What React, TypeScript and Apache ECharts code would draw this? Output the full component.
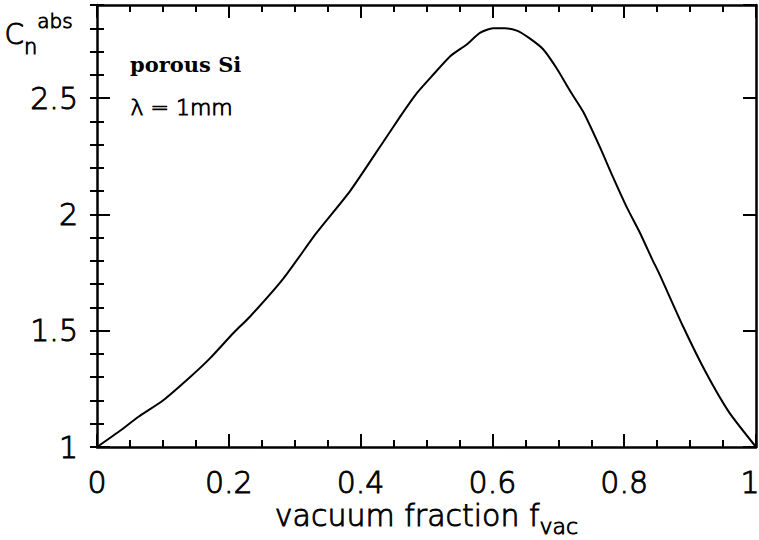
import React, { useEffect, useRef } from 'react';
import * as echarts from 'echarts';

// vacuum fraction (x) and absorption enhancement C_n^abs (y)
const fVac = [0, 0.035, 0.063, 0.1, 0.141, 0.171, 0.207, 0.232, 0.283, 0.333, 0.384, 0.434, 0.46, 0.485, 0.51, 0.536, 0.561, 0.581, 0.601, 0.619, 0.637, 0.655, 0.677, 0.697, 0.718, 0.738, 0.763, 0.783, 0.804, 0.824, 0.842, 0.854, 0.889, 0.924, 0.959, 1];
const cAbs = [1, 1.07, 1.13, 1.2, 1.3, 1.38, 1.49, 1.56, 1.725, 1.92, 2.1, 2.31, 2.42, 2.52, 2.6, 2.68, 2.73, 2.78, 2.8, 2.8, 2.79, 2.76, 2.71, 2.63, 2.53, 2.44, 2.29, 2.16, 2.03, 1.92, 1.81, 1.74, 1.52, 1.32, 1.15, 1];

const xMin = 0, xMax = 1, xMajor = 0.2, xMinorSplit = 4;
const yMin = 1, yMax = 2.9, yMajor = 0.5, yMinor = 0.1;

const FONT = '"DejaVu Sans", sans-serif';
const LIGHT = 200;
const BLACK = '#000';
const EDGE = 0.9;

export default function App() {
  const ref = useRef<HTMLDivElement>(null);
  useEffect(() => {
    if (!ref.current) return;
    const chart = echarts.init(ref.current, undefined, { renderer: 'svg' });
    const lineStyle = { color: BLACK, width: 2.5 };
    const majorTick = { show: true, inside: true, length: 13, lineStyle: { color: BLACK, width: 2 } };
    const minorTickY = { show: true, inside: true, length: 7, lineStyle: { color: BLACK, width: 2 } };
    const baseY = { type: 'value', min: yMin, max: yMax, splitLine: { show: false } };
    const baseX = { type: 'value', min: xMin, max: xMax, interval: xMajor, splitLine: { show: false } };
    const txt = { fontFamily: FONT, fontWeight: LIGHT, color: BLACK, textBorderColor: BLACK, textBorderWidth: EDGE };
    const gtxt = { fontFamily: FONT, fontWeight: LIGHT, fill: BLACK, stroke: BLACK, lineWidth: EDGE };
    chart.setOption({
      animation: false,
      backgroundColor: '#fff',
      grid: { left: 97, right: 3, top: 5, bottom: 93, containLabel: false, outerBoundsMode: 'none' },
      xAxis: [
        {
          ...baseX,
          position: 'bottom',
          axisLine: { show: true, onZero: false, lineStyle },
          axisTick: majorTick,
          minorTick: { show: true, splitNumber: xMinorSplit, length: 7, lineStyle: { color: BLACK, width: 2 } },
          axisLabel: {
            show: true,
            margin: 20,
            fontSize: 30,
            lineHeight: 30,
            ...txt,
            formatter: (v: number) => (v === xMax ? '{r|' + v + '}' : String(v)),
            rich: { r: { fontSize: 30, lineHeight: 30, ...txt, padding: [0, 12, 0, 0] } },
          },
          name: '{a|vacuum fraction f}{s|vac}',
          nameLocation: 'middle',
          nameGap: 53,
          nameMoveOverlap: false,
          nameTextStyle: {
            ...txt,
            rich: {
              a: { fontSize: 30, ...txt, lineHeight: 30 },
              s: { fontSize: 22, ...txt, lineHeight: 10, padding: [22, 0, 0, 0] },
            },
          },
        },
        {
          ...baseX,
          position: 'top',
          axisLine: { show: true, onZero: false, lineStyle },
          axisTick: majorTick,
          minorTick: { show: true, splitNumber: xMinorSplit, length: 7, lineStyle: { color: BLACK, width: 2 } },
          axisLabel: { show: false },
        },
      ],
      yAxis: [
        {
          ...baseY,
          position: 'left',
          interval: yMajor,
          axisLine: { show: true, onZero: false, lineStyle },
          axisTick: majorTick,
          axisLabel: { show: true, margin: 19, fontSize: 30, ...txt, showMaxLabel: false },
        },
        {
          ...baseY,
          position: 'left',
          interval: yMinor,
          axisLine: { show: false },
          axisTick: minorTickY,
          axisLabel: { show: false },
        },
        {
          ...baseY,
          position: 'right',
          interval: yMajor,
          axisLine: { show: true, onZero: false, lineStyle },
          axisTick: majorTick,
          axisLabel: { show: false },
        },
        {
          ...baseY,
          position: 'right',
          interval: yMinor,
          axisLine: { show: false },
          axisTick: minorTickY,
          axisLabel: { show: false },
        },
      ],
      series: [
        {
          type: 'line',
          xAxisIndex: 0,
          yAxisIndex: 0,
          data: fVac.map((x, i) => [x, cAbs[i]]),
          showSymbol: false,
          symbol: 'none',
          smooth: 0.2,
          lineStyle: { color: BLACK, width: 2 },
        },
      ],
      graphic: [
        {
          type: 'text',
          left: 4,
          top: 11,
          style: {
            text: '{c|C}{n|n}{a|abs}',
            ...gtxt,
            rich: {
              c: { fontSize: 28, ...gtxt, lineHeight: 46 },
              n: { fontSize: 21, ...gtxt, verticalAlign: 'bottom' },
              a: { fontSize: 20, ...gtxt, verticalAlign: 'top' },
            },
          },
        },
        {
          type: 'text',
          left: 130,
          top: 54,
          style: { text: 'porous Si', fontSize: 21, fontWeight: 'bold', fontFamily: '"DejaVu Serif", serif', fill: BLACK },
        },
        {
          type: 'text',
          left: 130,
          top: 96,
          style: { text: 'λ = 1mm', fontSize: 22, ...gtxt },
        },
      ],
    });
    return () => chart.dispose();
  }, []);
  return <div ref={ref} style={{ position: 'absolute', left: 0, top: 0, width: 759, height: 540 }} />;
}
